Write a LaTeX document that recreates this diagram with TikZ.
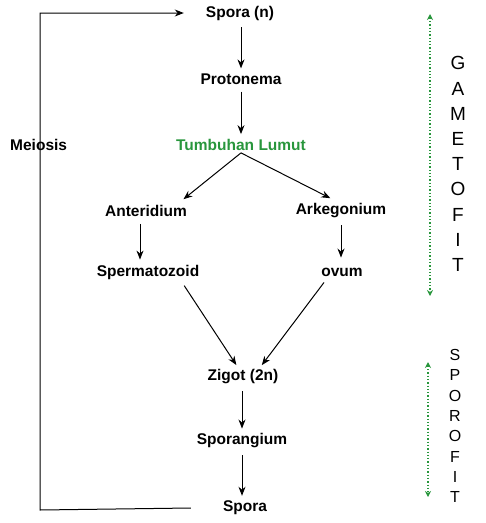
\documentclass[tikz,border=0pt]{standalone}
\usepackage{fontspec}
\setmainfont{Liberation Sans}
\usepackage{xcolor}
\usetikzlibrary{positioning,arrows.meta,calc}
\definecolor{lumutgreen}{RGB}{40,150,60}
\begin{document}
\begin{tikzpicture}[x=1pt,y=-1pt,
    tahap/.style={font=\bfseries\fontsize{15.5}{18}\selectfont, inner sep=2pt},
    panah/.style={-{Stealth[length=9pt,width=7pt]}, line width=1pt, shorten <=5pt, shorten >=3pt},
    fase/.style={{Stealth[length=6pt,width=6pt]}-{Stealth[length=6pt,width=6pt]}, lumutgreen, dotted, line width=1.3pt},
    huruf/.style={align=center, inner sep=0pt}]
    \useasboundingbox (0,0) rectangle (486,523);
    % tahap-tahap siklus
    \node[tahap] (spora1) at (240,13) {Spora (n)};
    \node[tahap] (protonema) at (241,79) {Protonema};
    \node[tahap, text=lumutgreen] (lumut) at (241,145) {Tumbuhan Lumut};
    \node[tahap] (anteridium) at (146,211) {Anteridium};
    \node[tahap] (arkegonium) at (341,211) {Arkegonium};
    \node[tahap] (sperma) at (148,272) {Spermatozoid};
    \node[tahap] (ovum) at (342,272) {ovum};
    \node[tahap] (zigot) at (243,377) {Zigot (2n)};
    \node[tahap] (sporangium) at (242,441) {Sporangium};
    \node[tahap] (spora2) at (245,508) {Spora};
    \node[tahap, anchor=west] (meiosis) at (8,145) {Meiosis};
    
    % panah utama (vertikal)
    \draw[panah] (spora1.south -| protonema) -- (protonema.north);
    \draw[panah] (protonema.south) -- (lumut.north);
    \draw[panah] (anteridium.south -| 140,0) -- (sperma.north -| 140,0);
    \draw[panah, shorten >=8pt] (arkegonium.south) -- (ovum.north -| arkegonium);
    \draw[panah] (zigot.south -| sporangium) -- (sporangium.north);
    \draw[panah] (sporangium.south) -- (spora2.north -| sporangium);
    % panah miring
    \draw[panah, shorten <=0pt] (lumut.south) -- ([xshift=-8pt,yshift=2pt]anteridium.north east);
    \draw[panah, shorten <=0pt] (lumut.south) -- ([xshift=-8pt,yshift=2pt]arkegonium.north);
    \draw[panah] ([xshift=-20pt]sperma.south east) -- ([xshift=-5pt]zigot.north);
    \draw[panah] ([xshift=-15pt]ovum.south) -- ([xshift=17pt]zigot.north);
    
    % garis meiosis kembali ke spora
    \coordinate (bawah) at (40,510);
    \coordinate (atas) at (40,13);
    \draw[-{Stealth[length=9pt,width=7pt]}, line width=1pt] ([xshift=-30pt]spora2.west) -- (bawah) -- (atas) -- ([xshift=-20pt]spora1.west);
    
    % fase gametofit dan sporofit
    \coordinate (g1) at (430,14);
    \coordinate (g2) at (430,296);
    \draw[fase] (g1) -- (g2);
    \coordinate (s1) at (428,362);
    \coordinate (s2) at (428,497);
    \draw[fase] (s1) -- (s2);
    \node[huruf, font=\fontsize{19}{25.2}\selectfont] (gametofit) at (458,164) {G\\A\\M\\E\\T\\O\\F\\I\\T};
    \node[huruf, font=\fontsize{16}{20.3}\selectfont] (sporofit) at (455,426) {S\\P\\O\\R\\O\\F\\I\\T};
\end{tikzpicture}
\end{document}
